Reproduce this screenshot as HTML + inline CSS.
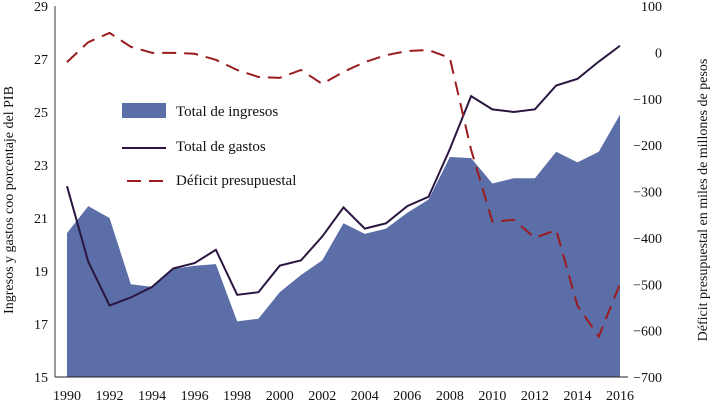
<!DOCTYPE html>
<html><head><meta charset="utf-8"><style>
body{margin:0;background:#fff}
svg text{font-family:"Liberation Serif",serif;fill:#111}
</style></head><body>
<svg id="c" width="712" height="406"></svg>
<script>
const years=[1990,1991,1992,1993,1994,1995,1996,1997,1998,1999,2000,2001,2002,2003,2004,2005,2006,2007,2008,2009,2010,2011,2012,2013,2014,2015,2016];
const ingresos=[20.43,21.45,21.0,18.5,18.4,19.08,19.2,19.26,17.1,17.2,18.2,18.85,19.4,20.8,20.4,20.6,21.2,21.7,23.3,23.26,22.3,22.5,22.5,23.5,23.1,23.5,24.9];
const gastos=[22.2,19.35,17.7,18.0,18.4,19.1,19.3,19.8,18.1,18.2,19.2,19.4,20.3,21.4,20.6,20.8,21.45,21.8,23.6,25.6,25.1,25.0,25.1,26.0,26.25,26.9,27.5];
const deficit=[-21,22,42,12,-1,-1,-3,-16,-38,-53,-55,-38,-68,-42,-21,-6,3,5,-12,-210,-365,-361,-400,-383,-546,-613,-499];
const leftTicks=[15,17,19,21,23,25,27,29];
const rightTicks=[100,0,-100,-200,-300,-400,-500,-600,-700];
const xTicks=[1990,1992,1994,1996,1998,2000,2002,2004,2006,2008,2010,2012,2014,2016];
const NS="http://www.w3.org/2000/svg",svg=document.getElementById('c');
const X=y=>67+(y-1990)*(553/26);
const YL=v=>6+(29-v)*(371/14);
const YR=v=>6+(100-v)*(371/800);
function mk(t,a,p){const e=document.createElementNS(NS,t);for(const k in a)e.setAttribute(k,a[k]);(p||svg).appendChild(e);return e;}
let d=`M${X(years[0])},${YL(15)}`;years.forEach((y,i)=>d+=`L${X(y)},${YL(ingresos[i])}`);d+=`L${X(years[years.length-1])},${YL(15)}Z`;
let e=mk('path',{d,fill:'#5b6ea8'});


e=mk('line',{x1:55,y1:6,x2:55,y2:377,stroke:'#333','stroke-width':1});


e=mk('line',{x1:55,y1:377,x2:628,y2:377,stroke:'#222','stroke-width':1});


e=mk('polyline',{points:years.map((y,i)=>X(y)+','+YL(gastos[i])).join(' '),fill:'none',stroke:'#2a1640','stroke-width':2});


e=mk('polyline',{points:years.map((y,i)=>X(y)+','+YR(deficit[i])).join(' '),fill:'none',stroke:'#9b1c1f','stroke-width':2,'stroke-dasharray':'14,8'});


leftTicks.forEach(v=>{const t=mk('text',{x:48,y:YL(v)+5,'text-anchor':'end','font-size':14});t.textContent=v;

});
rightTicks.forEach(v=>{const t=mk('text',{x:662,y:YR(v)+5,'text-anchor':'end','font-size':14});t.textContent=(v<0?'\u2212'+(-v):v);

});
xTicks.forEach(v=>{const t=mk('text',{x:X(v),y:400,'text-anchor':'middle','font-size':14});t.textContent=v;

});
let t=mk('text',{transform:'translate(13,200) rotate(-90)','text-anchor':'middle','font-size':14});t.textContent='Ingresos y gastos coo porcentaje del PIB';


t=mk('text',{transform:'translate(707,200) rotate(-90)','text-anchor':'middle','font-size':14});t.textContent='Déficit presupuestal en miles de millones de pesos';


const g=mk('g',{});


e=mk('rect',{x:122,y:103,width:44,height:15,fill:'#5b6ea8'},g);


e=mk('line',{x1:122,y1:148,x2:166,y2:148,stroke:'#2a1640','stroke-width':2},g);


e=mk('line',{x1:127,y1:181,x2:166,y2:181,stroke:'#9b1c1f','stroke-width':2,'stroke-dasharray':'14,8'},g);


[['Total de ingresos',116],['Total de gastos',151],['Déficit presupuestal',185]].forEach(([s,y])=>{const tt=mk('text',{x:176,y:y,'font-size':15},g);tt.textContent=s;

});
</script>
</body></html>
